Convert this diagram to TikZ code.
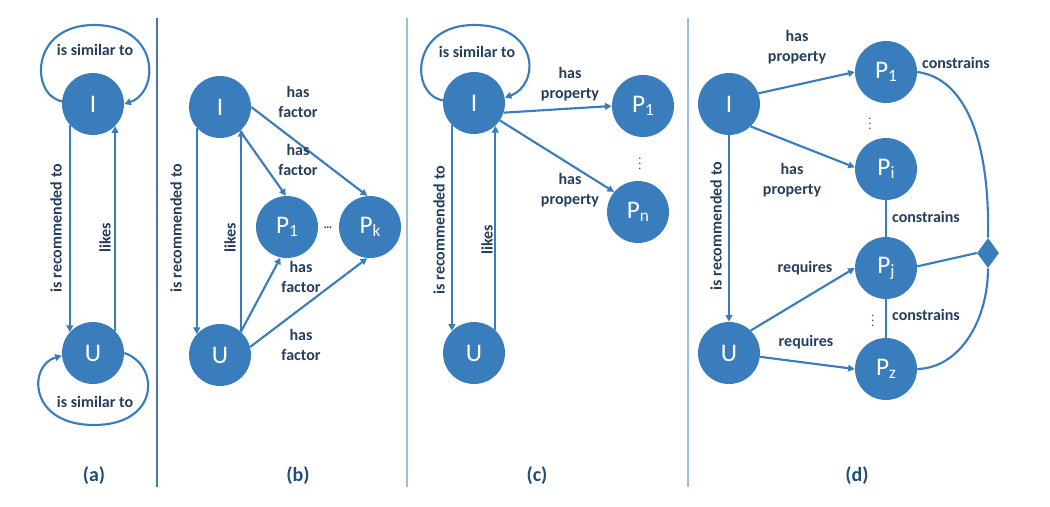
\documentclass[tikz,border=0pt]{standalone}
\usepackage{fontspec}
\setmainfont{Carlito}
\usetikzlibrary{arrows.meta,shapes.geometric}
\definecolor{nodeblue}{RGB}{58,125,188}
\definecolor{labcol}{RGB}{36,62,92}
\definecolor{capcol}{RGB}{31,78,121}
\definecolor{sepdark}{RGB}{70,120,170}
\definecolor{seplight}{RGB}{160,188,215}
\newcommand{\Ps}[1]{P\raisebox{-0.25ex}{\fontsize{13}{13}\selectfont #1}}
\begin{document}
\begin{tikzpicture}[x=0.75pt,y=-0.75pt,
 nd/.style={circle,fill=nodeblue,text=white,minimum size=46.5pt,inner sep=0pt,font=\fontsize{19}{20}\selectfont},
 arr/.style={draw=nodeblue,line width=1.6pt,-{Triangle[length=5pt,width=5pt]}},
 ln/.style={draw=nodeblue,line width=1.6pt},
 lbl/.style={text=labcol,font=\fontsize{12}{14.5}\selectfont\bfseries,align=center,inner sep=0pt},
 dots/.style={text=labcol,inner sep=0pt,font=\fontsize{9}{9}\selectfont},
 captxt/.style={text=capcol,font=\fontsize{15}{16}\selectfont\bfseries},
 sepline/.style={line width=0.8pt}]
\useasboundingbox (0,0) rectangle (1050,507);

% separators
\draw[sepline,sepdark] (157,18) -- (157,487);
\draw[sepline,seplight] (407,18) -- (407,487);
\draw[sepline,seplight] (688,18) -- (688,487);

% ---------------- (a)
\node[nd] (Ia) at (93,104) {I};
\node[nd] (Ua) at (93,353) {U};
\draw[arr] (Ia.175) .. controls (30,95) and (30,25) .. (94,25) .. controls (160,25) and (160,92) .. (Ia.east);
\node[lbl] (sa1) at (95,50) {is similar to};
\draw[arr] (Ua.east) .. controls (160,365) and (160,425) .. (94,425) .. controls (28,425) and (28,365) .. (Ua.185);
\node[lbl] (sa2) at (95,402) {is similar to};
\draw[arr] (Ia.222) -- (Ua.138);
\draw[arr] (Ua.45) -- (Ia.315);
\node[lbl,rotate=90] (ra) at (56,228) {is recommended to};
\node[lbl,rotate=90] (la) at (105,238) {likes};
\node[captxt] (ca) at (94,476) {(a)};

% ---------------- (b)
\node[nd] (Ib) at (220,107) {I};
\node[nd] (Ub) at (220,355) {U};
\node[nd] (P1b) at (287,227) {\Ps{1}};
\node[nd] (Pkb) at (370,227) {\Ps{k}};
\node[dots] (db) at (328,228) {\bfseries …};
\draw[arr] (Ib.222) -- (Ub.138);
\draw[arr] (Ub.47) -- (Ib.313);
\draw[arr] (Ib.-50) -- (P1b.92);
\draw[arr] (Ib.0) -- (Pkb.95);
\draw[arr] (Ub.48) -- (P1b.-102);
\draw[arr] (Ub.15) -- (Pkb.-95);
\node[lbl,rotate=90] (rb) at (176,228) {is recommended to};
\node[lbl,rotate=90] (lb) at (230,238) {likes};
\node[lbl] (hb1) at (298,102) {has\\factor};
\node[lbl] (hb2) at (298,160) {has\\factor};
\node[lbl] (hb3) at (301,277) {has\\factor};
\node[lbl] (hb4) at (301,345) {has\\factor};
\node[captxt] (cb) at (298,476) {(b)};

% ---------------- (c)
\node[nd] (Ic) at (474,103) {I};
\node[nd] (Uc) at (474,353) {U};
\node[nd] (P1c) at (643,106) {\Ps{1}};
\node[nd] (Pnc) at (638,212) {\Ps{n}};
\node[dots] (dc) at (640,160) {$\vdots$};
\draw[arr] (Ic.175) .. controls (410,95) and (410,25) .. (474,25) .. controls (540,25) and (540,85) .. (Ic.10);
\node[lbl] (sc) at (477,52) {is similar to};
\draw[arr] (Ic.225) -- (Uc.135);
\draw[arr] (Uc.47) -- (Ic.313);
\draw[arr] (Ic.-18) -- (P1c.180);
\draw[arr] (Ic.-34) -- (Pnc.140);
\node[lbl,rotate=90] (rc) at (439,230) {is recommended to};
\node[lbl,rotate=90] (lc) at (487,240) {likes};
\node[lbl] (hc1) at (570,84) {has\\property};
\node[lbl] (hc2) at (570,190) {has\\property};
\node[captxt] (cc) at (537,476) {(c)};

% ---------------- (d)
\node[nd] (Id) at (729,104) {I};
\node[nd] (Ud) at (729,353) {U};
\node[nd] (P1d) at (886,72) {\Ps{1}};
\node[nd] (Pid) at (886,169) {\Ps{i}};
\node[nd] (Pjd) at (886,268) {\Ps{j}};
\node[nd] (Pzd) at (886,369) {\Ps{z}};
\node[diamond,fill=nodeblue,inner sep=0pt,minimum width=16.5pt,minimum height=22.5pt] (D) at (988,253) {};
\node[dots] (dd1) at (870,120) {$\vdots$};
\node[dots] (dd2) at (873,317) {$\vdots$};
\draw[arr] (Id.south) -- (Ud.north);
\draw[arr] (Id.20) -- (P1d.180);
\draw[arr] (Id.-46) -- (Pid.177);
\draw[arr] (Ud.46) -- (Pjd.180);
\draw[arr] (Ud.-7) -- (Pzd.180);
\draw[ln] (Pid.south) -- (Pjd.north);
\draw[ln] (Pjd.south) -- (Pzd.north);
\draw[ln] (Pjd.3) -- (D.west);
\draw[ln] (P1d.east) .. controls (965,78) and (990,140) .. (D.north);
\draw[ln] (Pzd.east) .. controls (960,368) and (988,320) .. (D.south);
\node[lbl,rotate=90] (rd) at (716,226) {is recommended to};
\node[lbl] (hd1) at (797,47) {has\\property};
\node[lbl] (hd2) at (792,180) {has\\property};
\node[lbl] (qd1) at (805,268) {requires};
\node[lbl] (qd2) at (806,342) {requires};
\node[lbl] (kd1) at (956,63) {constrains};
\node[lbl] (kd2) at (926,217) {constrains};
\node[lbl] (kd3) at (926,315) {constrains};
\node[captxt] (cd) at (857,476) {(d)};
\end{tikzpicture}
\end{document}
